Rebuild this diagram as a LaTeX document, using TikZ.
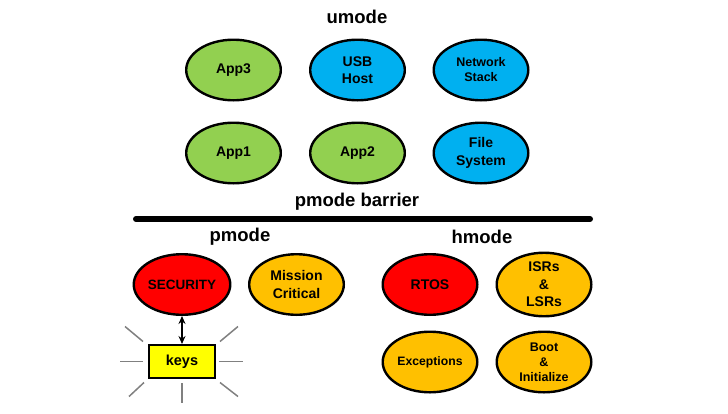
\documentclass[tikz,border=0pt]{standalone}
\usepackage{fontspec}
\setmainfont{Liberation Sans}
\usetikzlibrary{shapes.geometric,arrows.meta}
\definecolor{appgreen}{HTML}{92D050}
\definecolor{sysblue}{HTML}{00B0F0}
\definecolor{critred}{HTML}{FF0000}
\definecolor{critorange}{HTML}{FFC000}
\definecolor{keyyellow}{HTML}{FFFF00}
\definecolor{raygray}{HTML}{808080}

\begin{document}
\begin{tikzpicture}[x=1pt,y=-1pt]
        \tikzstyle{every node}=[font=\bfseries\fontsize{14}{17.5}\selectfont, align=center]
        \tikzstyle{task}=[ellipse, draw, line width=2.4pt, minimum width=94.6pt, minimum height=60.6pt, inner sep=0pt]
        \tikzstyle{modelabel}=[font=\bfseries\fontsize{18.5}{22}\selectfont]
        \tikzstyle{smalltext}=[font=\bfseries\fontsize{12.5}{15}\selectfont]
        \tikzstyle{ray}=[draw=raygray, line width=1.5pt]

        \useasboundingbox (0,0) rectangle (728,413);

        % umode
        \node[modelabel] (umode) at (357,16.5) {umode};
        \node[task, fill=appgreen] (app3) at (233.5,70) {App3};
        \node[task, fill=sysblue] (usb) at (357.5,70) {USB\\Host};
        \node[task, fill=sysblue, smalltext] (net) at (481,70) {Network\\Stack};
        \node[task, fill=appgreen] (app1) at (233.5,153) {App1};
        \node[task, fill=appgreen] (app2) at (357.5,153) {App2};
        \node[task, fill=sysblue] (fs) at (481,153) {File\\System};

        % barrier
        \node[modelabel] (barrier) at (357,202) {pmode barrier};
        \draw[line width=6pt, line cap=round] (136,219) -- (590,219);

        % pmode
        \node[modelabel] (pmode) at (240,237) {pmode};
        \node[task, fill=critred, font=\bfseries\fontsize{13.5}{17}\selectfont] (sec) at (182,284.5) {SECURITY};
        \node[task, fill=critorange] (mission) at (296.5,284.5) {Mission\\Critical};
        \node[draw, line width=2.4pt, fill=keyyellow, minimum width=65.6pt, minimum height=32.6pt,
              font=\bfseries\fontsize{14.5}{17}\selectfont] (keys) at (182,361.5) {keys};
        \draw[{Stealth[length=8pt,width=7pt]}-{Stealth[length=8pt,width=7pt]}, line width=1.5pt] (sec) -- (keys);
        \draw[ray] ([shift={(-62,0)}]keys.center) -- ([shift={(-39,0)}]keys.center);
        \draw[ray] ([shift={(37,0)}]keys.center) -- ([shift={(61,0)}]keys.center);
        \draw[ray] ([shift={(0,21.5)}]keys.center) -- ([shift={(0,41.5)}]keys.center);
        \draw[ray] ([shift={(-57,-35)}]keys.center) -- ([shift={(-39,-20)}]keys.center);
        \draw[ray] ([shift={(38,-20)}]keys.center) -- ([shift={(56,-35)}]keys.center);
        \draw[ray] ([shift={(-53,35)}]keys.center) -- ([shift={(-38,21)}]keys.center);
        \draw[ray] ([shift={(38,21)}]keys.center) -- ([shift={(56,35)}]keys.center);

        % hmode
        \node[modelabel] (hmode) at (482,236.5) {hmode};
        \node[task, fill=critred] (rtos) at (430,284.5) {RTOS};
        \node[task, fill=critorange] (isr) at (544,284.5) {ISRs\\\&\\LSRs};
        \node[task, fill=critorange, font=\bfseries\fontsize{12.2}{15}\selectfont] (exc) at (430,362) {Exceptions};
        \node[task, fill=critorange, smalltext] (boot) at (544,362) {Boot\\\&\\Initialize};
\end{tikzpicture}
\end{document}
